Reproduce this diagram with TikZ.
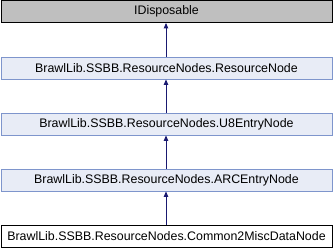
\documentclass[tikz,border=0pt]{standalone}
\usepackage{fontspec}
\setmainfont{Liberation Sans}
\usetikzlibrary{arrows.meta}
\definecolor{boxfill}{HTML}{E8ECF6}
\definecolor{boxline}{HTML}{7E95CC}
\definecolor{linkcol}{HTML}{191970}
\definecolor{extfill}{HTML}{BFBFBF}
\tikzset{
  classbox/.style={draw=boxline, fill=boxfill, line width=0.9pt, minimum width=331pt, minimum height=22pt, inner sep=0pt, font=\fontsize{12.4}{14}\selectfont},
  extbox/.style={classbox, draw=black, fill=extfill},
  curbox/.style={classbox, draw=black, fill=white},
  inherit/.style={draw=linkcol, line width=0.9pt, -{Stealth[length=5.5pt,width=4.5pt,inset=0pt]}}
}
\begin{document}
\begin{tikzpicture}[x=1pt,y=-1pt]
\useasboundingbox (0,0) rectangle (333,248);
\node[extbox] (idisp) at (166.5,11.5) {IDisposable};
\node[classbox] (res) at (166.5,68) {BrawlLib.SSBB.ResourceNodes.ResourceNode};
\node[classbox] (u8) at (166.5,124) {BrawlLib.SSBB.ResourceNodes.U8EntryNode};
\node[classbox] (arc) at (166.5,180) {BrawlLib.SSBB.ResourceNodes.ARCEntryNode};
\node[curbox] (misc) at (166.5,236) {BrawlLib.SSBB.ResourceNodes.Common2MiscDataNode};
\draw[inherit] (res.north -| 166,0) -- (idisp.south -| 166,0);
\draw[inherit] (u8.north -| 166,0) -- (res.south -| 166,0);
\draw[inherit] (arc.north -| 166,0) -- (u8.south -| 166,0);
\draw[inherit] (misc.north -| 166,0) -- (arc.south -| 166,0);
\end{tikzpicture}
\end{document}
